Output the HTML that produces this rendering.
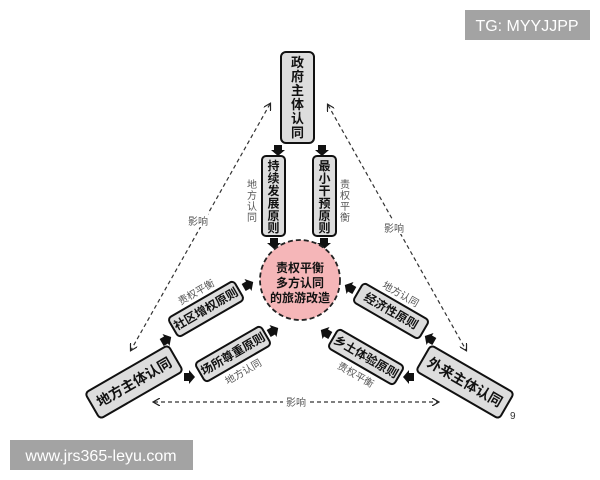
<!DOCTYPE html>
<html><head><meta charset="utf-8"><style>
html,body{margin:0;padding:0;background:#fff;width:600px;height:480px;overflow:hidden}
svg{display:block}
text{font-family:"Liberation Sans","Noto Sans CJK SC",sans-serif}
.b{font-weight:bold;fill:#111}
.s{fill:#555;font-size:10px}
</style></head><body>
<svg width="600" height="480" viewBox="0 0 600 480" xmlns="http://www.w3.org/2000/svg">
<defs>
<marker id="ah" markerWidth="8" markerHeight="8" refX="6" refY="4" orient="auto-start-reverse" markerUnits="userSpaceOnUse"><path d="M0,0 L7,4 L0,8" fill="none" stroke="#222" stroke-width="1.2"/></marker>
<g id="barr"><polygon points="-4,-5 4,-5 4,0 7,0 0,6 -7,0 -4,0" fill="#111"/></g>
</defs>
<rect x="465" y="10" width="125" height="30" fill="#a3a3a3"/>
<text x="527" y="31" font-size="16" fill="#fff" text-anchor="middle">TG: MYYJJPP</text>
<rect x="10" y="440" width="183" height="30" fill="#a3a3a3"/>
<text x="101" y="461" font-size="16" fill="#fff" text-anchor="middle">www.jrs365-leyu.com</text>

<g stroke="#333" stroke-width="1.2" stroke-dasharray="4,3" fill="none">
<line x1="270" y1="104" x2="131" y2="350" marker-start="url(#ah)" marker-end="url(#ah)"/>
<line x1="328" y1="105" x2="466" y2="350" marker-start="url(#ah)" marker-end="url(#ah)"/>
<line x1="154" y1="402" x2="283" y2="402" marker-start="url(#ah)"/>
<line x1="310" y1="402" x2="438" y2="402" marker-end="url(#ah)"/>
</g>
<rect x="188" y="213" width="20" height="14" fill="#fff"/>
<text x="198" y="225" class="s" text-anchor="middle">影响</text>
<rect x="384" y="220" width="20" height="14" fill="#fff"/>
<text x="394" y="232" class="s" text-anchor="middle">影响</text>
<text x="296" y="406" class="s" text-anchor="middle">影响</text>

<rect x="281" y="52" width="33" height="91" rx="5" fill="#ddd" stroke="#111" stroke-width="2"/>
<g class="b" font-size="13" text-anchor="middle">
<text x="297.5" y="67">政</text><text x="297.5" y="81">府</text><text x="297.5" y="95">主</text><text x="297.5" y="109">体</text><text x="297.5" y="123">认</text><text x="297.5" y="137">同</text>
</g>
<use href="#barr" x="278" y="150"/><use href="#barr" x="322" y="150"/>
<rect x="262" y="156" width="23" height="80" rx="4" fill="#ddd" stroke="#111" stroke-width="2"/>
<rect x="313" y="156" width="23" height="80" rx="4" fill="#ddd" stroke="#111" stroke-width="2"/>
<g class="b" font-size="12" text-anchor="middle">
<text x="273.5" y="170">持</text><text x="273.5" y="182.5">续</text><text x="273.5" y="195">发</text><text x="273.5" y="207.5">展</text><text x="273.5" y="220">原</text><text x="273.5" y="232">则</text>
<text x="324.5" y="170">最</text><text x="324.5" y="182.5">小</text><text x="324.5" y="195">干</text><text x="324.5" y="207.5">预</text><text x="324.5" y="220">原</text><text x="324.5" y="232">则</text>
</g>
<g class="s" text-anchor="middle">
<text x="252" y="188">地</text><text x="252" y="199">方</text><text x="252" y="210">认</text><text x="252" y="221">同</text>
<text x="345" y="188">责</text><text x="345" y="199">权</text><text x="345" y="210">平</text><text x="345" y="221">衡</text>
</g>
<use href="#barr" x="274" y="243"/><use href="#barr" x="324" y="243"/>

<circle cx="300" cy="280" r="40" fill="#f5b6b8" stroke="#222" stroke-width="1.8" stroke-dasharray="5,3"/>
<g class="b" font-size="12" text-anchor="middle">
<text x="300" y="272">责权平衡</text><text x="300" y="287">多方认同</text><text x="300" y="302">的旅游改造</text>
</g>

<g transform="translate(134,382) rotate(-30)">
<rect x="-48" y="-15" width="96" height="30" rx="4" fill="#ddd" stroke="#111" stroke-width="2"/>
<text x="0" y="5" class="b" font-size="14" text-anchor="middle">地方主体认同</text></g>
<g transform="translate(206,309) rotate(-30)">
<rect x="-38" y="-11" width="76" height="22" rx="4" fill="#ddd" stroke="#111" stroke-width="2"/>
<text x="0" y="4" class="b" font-size="12" text-anchor="middle">社区增权原则</text>
<text x="0" y="-16" class="s" text-anchor="middle">责权平衡</text></g>
<g transform="translate(233,354) rotate(-30)">
<rect x="-38" y="-11" width="76" height="22" rx="4" fill="#ddd" stroke="#111" stroke-width="2"/>
<text x="0" y="4" class="b" font-size="12" text-anchor="middle">场所尊重原则</text>
<text x="0" y="24" class="s" text-anchor="middle">地方认同</text></g>
<use href="#barr" transform="translate(166,340) rotate(-120)"/>
<use href="#barr" transform="translate(189,377) rotate(-90)"/>
<use href="#barr" transform="translate(248,285) rotate(-120)"/>
<use href="#barr" transform="translate(273,331) rotate(-120)"/>

<g transform="translate(465,382) rotate(30)">
<rect x="-48" y="-15" width="96" height="30" rx="4" fill="#ddd" stroke="#111" stroke-width="2"/>
<text x="0" y="5" class="b" font-size="14" text-anchor="middle">外来主体认同</text></g>
<g transform="translate(391,311) rotate(30)">
<rect x="-38" y="-11" width="76" height="22" rx="4" fill="#ddd" stroke="#111" stroke-width="2"/>
<text x="0" y="4" class="b" font-size="12" text-anchor="middle">经济性原则</text>
<text x="0" y="-16" class="s" text-anchor="middle">地方认同</text></g>
<g transform="translate(366,357) rotate(30)">
<rect x="-38" y="-11" width="76" height="22" rx="4" fill="#ddd" stroke="#111" stroke-width="2"/>
<text x="0" y="4" class="b" font-size="12" text-anchor="middle">乡土体验原则</text>
<text x="0" y="24" class="s" text-anchor="middle">责权平衡</text></g>
<use href="#barr" transform="translate(430,339) rotate(120)"/>
<use href="#barr" transform="translate(409,377) rotate(90)"/>
<use href="#barr" transform="translate(350,288) rotate(120)"/>
<use href="#barr" transform="translate(326,333) rotate(120)"/>
<text x="510" y="419" font-size="10" fill="#333">9</text>
</svg>
</body></html>
